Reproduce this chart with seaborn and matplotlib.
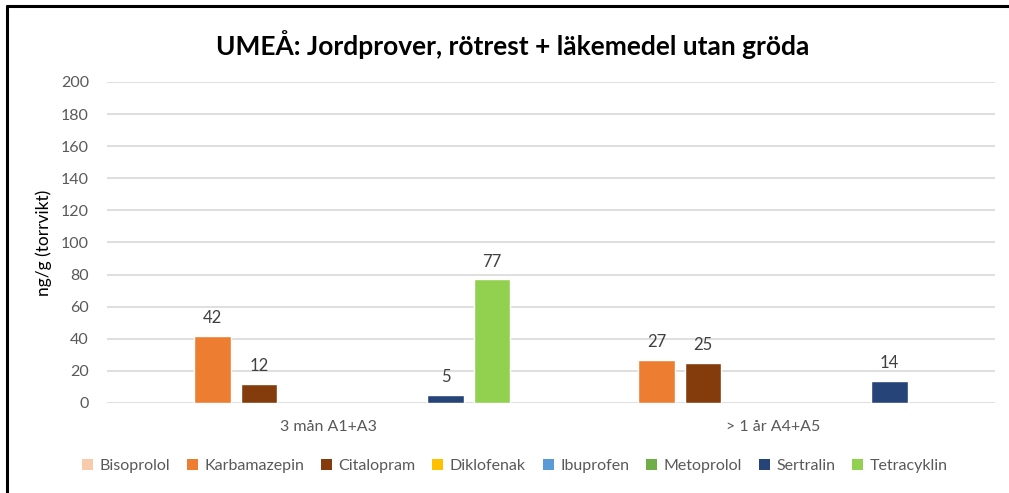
import numpy as np
import pandas as pd
import matplotlib
matplotlib.use("Agg")
import matplotlib.pyplot as plt
from matplotlib.patches import Patch
from matplotlib.lines import Line2D
import seaborn as sns

# Data (NaN = no bar drawn)
categories = ["3 mån A1+A3", "> 1 år A4+A5"]
substances = ["Bisoprolol", "Karbamazepin", "Citalopram", "Diklofenak",
              "Ibuprofen", "Metoprolol", "Sertralin", "Tetracyklin"]
values_3man = [np.nan, 42, 12, np.nan, np.nan, np.nan, 5, 77]
values_1ar = [np.nan, 27, 25, np.nan, np.nan, np.nan, 14, np.nan]
colors = ["#F8CBAD", "#ED7D31", "#843C0C", "#FFC000",
          "#5B9BD5", "#70AD47", "#264478", "#92D050"]
y_ticks = [0, 20, 40, 60, 80, 100, 120, 140, 160, 180, 200]

sns.set_theme(style="white")
plt.rcParams["font.family"] = ["Lato", "DejaVu Sans"]

df = pd.DataFrame({
    "kategori": np.repeat(categories, len(substances)),
    "substans": substances * len(categories),
    "varde": values_3man + values_1ar,
})

fig = plt.figure(figsize=(10.09, 4.93), dpi=100)
ax = fig.add_axes([0.106, 0.1826, 0.88, 0.6511])

sns.barplot(data=df, x="kategori", y="varde", hue="substans",
            order=categories, hue_order=substances, palette=colors,
            width=0.84, gap=0.22, errorbar=None, legend=False, ax=ax,
            saturation=1)

for cont in ax.containers:
    labels = ["" if np.isnan(v) else f"{v:.0f}" for v in cont.datavalues]
    ax.bar_label(cont, labels=labels, padding=7, fontsize=12, color="#404040")

ax.set_ylim(0, 200)
ax.set_yticks(y_ticks)
ax.yaxis.grid(True, color="#D9D9D9", linewidth=1.2)
ax.set_axisbelow(True)
for s in ax.spines.values():
    s.set_visible(False)
ax.tick_params(axis="both", length=0, labelsize=11.5, labelcolor="#595959")
ax.tick_params(axis="y", pad=13)
ax.tick_params(axis="x", pad=12)
ax.set_xlabel("")
ax.set_ylabel("ng/g (torrvikt)", fontsize=12.5, color="#000000", labelpad=6)

fig.suptitle("UMEÅ: Jordprover, rötrest + läkemedel utan gröda",
             x=0.508, y=0.94, fontsize=19, fontweight="bold", color="#000000")

handles = [Patch(facecolor=c, edgecolor="none", label=s) for s, c in zip(substances, colors)]
fig.legend(handles=handles, loc="center", bbox_to_anchor=(0.51, 0.055), ncol=8,
           frameon=False, fontsize=11.5, handlelength=0.7, handleheight=0.7,
           handletextpad=0.4, columnspacing=1.05, labelcolor="#595959")

# black frame on top and left edge as in the screenshot
fig.add_artist(Line2D([0.0065, 0.0065], [0, 0.988], transform=fig.transFigure,
                      color="black", linewidth=2.2))
fig.add_artist(Line2D([0.0065, 1.0], [0.988, 0.988], transform=fig.transFigure,
                      color="black", linewidth=2.2))

fig.savefig("out.png", dpi=100, facecolor="white")
